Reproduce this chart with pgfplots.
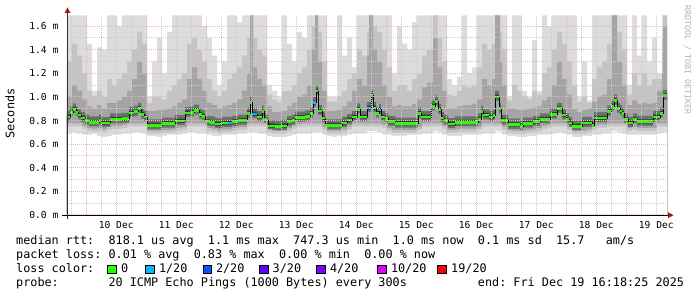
\documentclass[border=0pt]{standalone}
\usepackage{fontspec}
\setmainfont{DejaVu Sans Mono}
\setmonofont{DejaVu Sans Mono}
\usepackage{pgfplots}
\usepackage{pgfplotstable}
\pgfplotsset{compat=1.18}

\definecolor{cA}{HTML}{DCDCDC}
\definecolor{cB}{HTML}{C4C4C4}
\definecolor{cC}{HTML}{A4A4A4}
\definecolor{cD}{HTML}{6E6E6E}
\definecolor{cE}{HTML}{363636}
\definecolor{lossgreen}{HTML}{26FF00}
\definecolor{lossA}{HTML}{00B8FF}
\definecolor{lossB}{HTML}{0059FF}
\definecolor{lossC}{HTML}{5E00FF}
\definecolor{lossD}{HTML}{7E00FF}
\definecolor{lossE}{HTML}{DD00FF}
\definecolor{lossF}{HTML}{FF0000}
\definecolor{gridred}{HTML}{EBB4B4}
\definecolor{gridgray}{HTML}{CCCCCC}
\definecolor{arrowred}{HTML}{A01818}

\newcommand\legendfont{\fontsize{11.8}{14}\selectfont}
\newcommand\tickfont{\fontsize{9.6}{11}\selectfont}

% smoke envelope: a=top light, b, c (upper layers); d, e, f (lower layers)
\pgfplotstableread{
x a b c d e f
16.3 1.69 1.30 1.00 .775 .75 .69
18.3 1.69 1.45 1.10 .775 .75 .70
20.3 1.69 1.35 1.05 .775 .75 .69
22.3 1.69 1.20 0.98 .755 .73 .68
24.3 1.45 1.05 0.92 .735 .71 .68
26.3 1.05 1.00 0.90 .73 .705 .69
28.3 1.42 1.05 0.93 .735 .71 .67
30.3 1.40 1.00 0.90 .725 .70 .66
32.3 1.69 1.15 0.95 .745 .72 .67
34.3 1.69 1.10 0.95 .755 .73 .68
36.3 1.60 1.15 0.97 .755 .73 .68
38.3 1.69 1.20 1.00 .76 .735 .69
40.3 1.69 1.30 1.05 .775 .75 .69
42.3 1.69 1.40 1.15 .775 .75 .70
44.3 1.69 1.55 1.30 .775 .75 .70
46.3 1.69 1.45 1.20 .775 .75 .69
48.3 1.00 0.95 0.88 .715 .69 .67
50.3 1.30 1.00 0.88 .715 .69 .67
52.3 1.50 1.00 0.89 .715 .69 .66
54.3 1.20 0.98 0.89 .72 .695 .67
56.3 1.55 1.05 0.90 .72 .695 .68
58.3 1.69 1.10 0.92 .725 .70 .68
60.3 1.69 1.15 0.95 .74 .715 .68
62.3 1.69 1.20 0.98 .745 .72 .69
64.3 1.69 1.45 1.15 .775 .75 .70
66.3 1.69 1.50 1.25 .775 .75 .70
68.3 1.69 1.40 1.15 .775 .75 .69
70.3 1.60 1.30 1.05 .775 .75 .69
72.3 1.50 1.15 0.95 .735 .71 .68
74.3 1.35 1.05 0.93 .73 .705 .67
76.3 1.10 1.00 0.90 .715 .69 .67
78.3 1.30 1.05 0.92 .725 .70 .68
80.3 1.69 1.15 0.93 .725 .70 .68
82.3 1.69 1.20 0.95 .735 .71 .68
84.3 1.63 1.25 0.98 .745 .72 .69
86.3 1.69 1.35 1.05 .745 .72 .69
88.3 1.69 1.50 1.20 .775 .75 .70
89.5 1.69 1.69 1.69 .775 .75 .70
90.7 1.69 1.50 1.25 .775 .75 .70
92.3 1.69 1.40 1.15 .775 .75 .69
94.3 1.69 1.35 1.10 .775 .75 .69
96.3 1.10 1.02 0.92 .725 .70 .67
98.3 1.05 0.98 0.87 .715 .69 .66
100.3 1.00 0.96 0.87 .715 .69 .66
102.3 1.69 1.05 0.88 .715 .69 .66
104.3 1.45 1.05 0.92 .735 .71 .67
106.3 1.30 1.10 0.95 .755 .73 .68
108.3 1.55 1.20 1.00 .77 .745 .69
110.3 1.50 1.25 1.02 .775 .75 .69
112.3 1.69 1.40 1.10 .775 .75 .69
114.3 1.69 1.60 1.40 .775 .75 .70
115.5 1.69 1.69 1.69 .775 .75 .70
116.7 1.69 1.55 1.30 .775 .75 .70
118.3 1.69 1.30 1.05 .745 .72 .68
120.3 1.00 0.96 0.88 .715 .69 .67
122.3 1.00 0.96 0.88 .715 .69 .66
124.3 1.69 1.00 0.89 .715 .69 .67
126.3 1.35 1.05 0.92 .725 .70 .67
128.3 1.50 1.15 0.96 .75 .725 .68
130.3 1.25 1.20 1.05 .775 .75 .69
132.3 1.69 1.40 1.15 .775 .75 .69
134.3 1.69 1.35 1.10 .775 .75 .69
136.3 1.69 1.55 1.35 .775 .75 .71
137.1 1.69 1.69 1.69 .775 .75 .71
138.7 1.69 1.60 1.40 .775 .75 .71
140.3 1.69 1.55 1.30 .775 .75 .70
142.3 1.69 1.40 1.10 .765 .74 .68
144.3 1.69 1.25 1.00 .735 .71 .68
146.3 1.20 1.05 0.92 .72 .695 .67
148.3 1.60 1.10 0.93 .72 .695 .67
150.3 1.45 1.10 0.92 .72 .695 .67
152.3 1.40 1.05 0.92 .72 .695 .68
154.3 1.63 1.15 0.94 .72 .695 .68
156.3 1.69 1.20 0.98 .745 .72 .68
158.3 1.69 1.35 1.08 .775 .75 .69
160.3 1.69 1.40 1.12 .775 .75 .69
162.7 1.69 1.69 1.50 .775 .75 .71
164.5 1.69 1.50 1.25 .775 .75 .70
166.3 1.69 1.30 1.05 .755 .73 .68
168.3 1.15 1.02 0.90 .72 .695 .67
170.3 1.10 1.00 0.90 .72 .695 .67
172.3 1.17 1.05 0.92 .73 .705 .67
174.3 1.69 1.10 0.93 .73 .705 .68
176.3 1.20 1.08 0.93 .73 .705 .68
178.3 1.25 1.10 0.94 .73 .705 .68
180.3 1.69 1.25 0.98 .745 .72 .68
182.3 1.69 1.45 1.15 .775 .75 .69
184.3 1.69 1.40 1.10 .775 .75 .69
186.3 1.69 1.45 1.15 .775 .75 .69
187.5 1.69 1.69 1.69 .775 .75 .71
189.5 1.69 1.55 1.30 .775 .75 .70
190.3 1.69 1.40 1.10 .745 .72 .68
192.3 1.00 0.97 0.90 .72 .695 .67
194.3 1.69 1.10 0.90 .715 .69 .67
196.3 1.69 1.05 0.89 .715 .69 .66
198.3 1.05 1.00 0.89 .715 .69 .66
200.3 1.00 0.98 0.90 .72 .695 .67
202.3 1.48 1.05 0.91 .725 .70 .67
204.3 1.05 1.02 0.92 .735 .71 .68
206.3 1.69 1.20 0.97 .755 .73 .68
208.3 1.60 1.25 1.00 .765 .74 .68
210.3 1.69 1.40 1.10 .775 .75 .69
212.3 1.69 1.55 1.30 .775 .75 .70
214.3 1.69 1.45 1.15 .775 .75 .69
216.3 1.69 1.30 1.02 .745 .72 .68
218.3 1.69 1.10 0.90 .715 .69 .66
220.3 1.00 0.96 0.87 .715 .69 .66
222.3 1.30 1.00 0.89 .715 .69 .67
224.3 0.97 0.95 0.90 .725 .70 .67
226.3 1.69 1.15 0.96 .745 .72 .68
228.3 1.69 1.25 1.00 .765 .74 .68
230.3 1.69 1.30 1.02 .765 .74 .69
232.3 1.69 1.45 1.15 .775 .75 .69
234.3 1.69 1.69 1.69 .775 .75 .71
236.3 1.69 1.55 1.30 .775 .75 .70
238.3 1.69 1.40 1.10 .775 .75 .69
240.3 1.10 1.02 0.93 .735 .71 .68
242.3 1.69 1.20 0.97 .745 .72 .68
244.3 1.35 1.10 0.94 .735 .71 .68
246.3 1.69 1.20 0.95 .735 .71 .68
248.3 1.30 1.10 0.94 .735 .71 .68
250.3 1.50 1.15 0.95 .735 .71 .68
252.3 1.20 1.15 1.05 .775 .75 .69
254.3 1.69 1.50 1.20 .775 .75 .70
254.7 1.69 1.69 1.60 .775 .75 .70
256.3 1.69 1.69 1.60 .775 .75 .70
}\smoke

% median rtt (in ms) and the dark core around it
\pgfplotstableread{
x m hd he le ld
16.3 .83 .88 .85 .815 .795
17.5 .87 .92 .89 .855 .835
18.7 .895 .945 .915 .88 .86
19.9 .87 .92 .89 .855 .835
20.7 .845 .895 .865 .83 .81
21.9 .82 .87 .84 .805 .785
23.5 .80 .85 .82 .785 .765
25.1 .785 .835 .805 .77 .75
29.1 .80 .85 .82 .785 .765
29.9 .78 .83 .80 .765 .745
33.5 .81 .86 .83 .795 .775
38.3 .815 .865 .835 .80 .78
41.1 .865 .915 .885 .85 .83
43.1 .875 .925 .895 .86 .84
44.7 .90 .95 .92 .885 .865
45.9 .85 .90 .87 .835 .815
47.1 .83 .88 .85 .815 .795
48.3 .76 .81 .78 .745 .725
54.3 .775 .825 .795 .76 .74
59.5 .795 .845 .815 .78 .76
63.5 .865 .915 .885 .85 .83
65.5 .87 .92 .89 .855 .835
67.1 .885 .935 .905 .87 .85
69.1 .85 .90 .87 .835 .815
70.3 .835 .885 .855 .82 .80
71.5 .79 .84 .81 .775 .755
73.5 .785 .835 .805 .77 .75
75.5 .77 .82 .79 .755 .735
78.3 .78 .83 .80 .765 .745
82.3 .79 .84 .81 .775 .755
84.7 .80 .85 .82 .785 .765
88.3 .86 .91 .88 .845 .825
89.5 .95 1.00 .97 .935 .915
90.3 .855 .905 .875 .84 .82
92.3 .83 .88 .85 .815 .795
94.3 .875 .925 .895 .86 .84
95.1 .81 .86 .83 .795 .775
95.9 .80 .85 .82 .785 .765
96.7 .755 .805 .775 .74 .72
99.5 .75 .80 .77 .735 .715
102.3 .755 .805 .775 .74 .72
104.3 .79 .84 .81 .775 .755
106.3 .80 .85 .82 .785 .765
107.5 .825 .875 .845 .81 .79
111.5 .835 .885 .855 .82 .80
113.5 .86 .91 .88 .845 .825
114.7 .95 1.00 .97 .935 .915
115.9 1.05 1.10 1.07 1.035 1.015
116.7 .88 .93 .90 .865 .845
118.3 .82 .87 .84 .805 .785
119.5 .76 .81 .78 .745 .725
126.3 .78 .83 .80 .765 .745
128.3 .805 .855 .825 .79 .77
130.3 .83 .88 .85 .815 .795
132.3 .895 .945 .915 .88 .86
133.5 .83 .88 .85 .815 .795
136.3 .905 .955 .925 .89 .87
137.9 1.01 1.06 1.03 .995 .975
138.7 .905 .955 .925 .89 .87
139.9 .86 .91 .88 .845 .825
141.1 .89 .94 .91 .875 .855
141.9 .83 .88 .85 .815 .795
143.5 .815 .865 .835 .80 .78
144.7 .79 .84 .81 .775 .755
147.5 .775 .825 .795 .76 .74
156.7 .86 .91 .88 .845 .825
157.9 .83 .88 .85 .815 .795
161.9 .92 .97 .94 .905 .885
163.5 .96 1.01 .98 .945 .925
164.7 .89 .94 .91 .875 .855
165.9 .82 .87 .84 .805 .785
167.1 .80 .85 .82 .785 .765
168.7 .77 .82 .79 .755 .735
171.5 .785 .835 .805 .77 .75
180.7 .81 .86 .83 .795 .775
181.9 .875 .925 .895 .86 .84
182.7 .845 .895 .865 .83 .81
185.1 .83 .88 .85 .815 .795
186.7 .84 .89 .86 .825 .805
187.5 1.00 1.05 1.02 .985 .965
189.1 .90 .95 .92 .885 .865
189.9 .80 .85 .82 .785 .765
192.7 .765 .815 .785 .75 .73
197.5 .75 .80 .77 .735 .715
198.7 .775 .825 .795 .76 .74
202.7 .79 .84 .81 .775 .755
205.5 .81 .86 .83 .795 .775
209.5 .85 .90 .87 .835 .815
212.3 .90 .95 .92 .885 .865
214.3 .845 .895 .865 .83 .81
215.9 .81 .86 .83 .795 .775
217.1 .78 .83 .80 .765 .745
218.3 .75 .80 .77 .735 .715
222.3 .78 .83 .80 .765 .745
226.3 .76 .81 .78 .745 .725
227.1 .82 .87 .84 .805 .785
232.3 .875 .925 .895 .86 .84
233.9 .92 .97 .94 .905 .885
235.1 .97 1.02 .99 .955 .935
236.3 .90 .95 .92 .885 .865
237.5 .88 .93 .90 .865 .845
238.3 .86 .91 .88 .845 .825
239.1 .81 .86 .83 .795 .775
240.7 .78 .83 .80 .765 .745
242.7 .81 .86 .83 .795 .775
244.3 .79 .84 .81 .775 .755
250.7 .83 .88 .85 .815 .795
253.5 .86 .91 .88 .845 .825
254.7 1.01 1.06 1.03 .995 .975
256.3 1.01 1.06 1.03 .995 .975
}\med

\begin{document}
\begin{tikzpicture}
\useasboundingbox (0,0) rectangle (697pt,297pt);
\begin{axis}[
  at={(67pt,82pt)}, anchor=south west,
  scale only axis, width=600pt, height=199.6pt,
  xmin=16.3, xmax=256.3, ymin=0, ymax=1.69,
  axis line style={draw=none},
  tick style={draw=none},
  xtick={24,48,72,96,120,144,168,192,216,240},
  xticklabels={},
  minor xtick={18,30,36,42,54,60,66,78,84,90,102,108,114,126,132,138,150,156,162,174,180,186,198,204,210,222,228,234,246,252},
  extra x ticks={36,60,84,108,132,156,180,204,228,252},
  extra x tick labels={10 Dec,11 Dec,12 Dec,13 Dec,14 Dec,15 Dec,16 Dec,17 Dec,18 Dec,19 Dec},
  extra x tick style={grid=none},
  ytick={0,0.2,0.4,0.6,0.8,1.0,1.2,1.4,1.6},
  yticklabels={0.0 m,0.2 m,0.4 m,0.6 m,0.8 m,1.0 m,1.2 m,1.4 m,1.6 m},
  minor ytick={0.1,0.3,0.5,0.7,0.9,1.1,1.3,1.5},
  grid=both,
  major grid style={draw=gridred, line width=1pt, dash pattern=on 1pt off 1pt},
  minor grid style={draw=gridgray, line width=1pt, dash pattern=on 1pt off 1pt},
  axis on top,
  ticklabel style={font=\tickfont},
  xticklabel style={anchor=base, inner sep=0pt, yshift=-13.3pt},
  yticklabel style={anchor=east, inner sep=0pt, xshift=-8.5pt},
]
\addplot[const plot, draw=none, fill=cA] table[x=x,y=a]{\smoke} \closedcycle;
\addplot[const plot, draw=none, fill=cB] table[x=x,y=b]{\smoke} \closedcycle;
\addplot[const plot, draw=none, fill=cC] table[x=x,y=c]{\smoke} \closedcycle;
\addplot[const plot, draw=none, fill=cD] table[x=x,y=hd]{\med} \closedcycle;
\addplot[const plot, draw=none, fill=cE] table[x=x,y=he]{\med} \closedcycle;
\addplot[const plot, draw=none, fill=cD] table[x=x,y=le]{\med} \closedcycle;
\addplot[const plot, draw=none, fill=cC] table[x=x,y=ld]{\med} \closedcycle;
\addplot[const plot, draw=none, fill=cB] table[x=x,y=d]{\smoke} \closedcycle;
\addplot[const plot, draw=none, fill=cA] table[x=x,y=e]{\smoke} \closedcycle;
\addplot[const plot, draw=none, fill=white] table[x=x,y=f]{\smoke} \closedcycle;
\addplot[const plot, black, line width=0.8pt] table[x=x,y=m]{\med};
\addplot[jump mark left, lossgreen, line width=2.6pt] table[x=x,y=m]{\med};
\addplot[lossA, line width=2.6pt] coordinates {(80.7,0.78) (82.3,0.78)};
\addplot[lossA, line width=2.6pt] coordinates {(90.3,0.855) (92.3,0.855)};
\addplot[lossA, line width=2.6pt] coordinates {(114.7,0.95) (115.9,0.95)};
\addplot[lossA, line width=2.6pt] coordinates {(136.3,0.905) (137.9,0.905)};
\addplot[lossA, line width=2.6pt] coordinates {(141.1,0.89) (141.9,0.89)};
\end{axis}
% axes with arrows
\draw[black, line width=1pt] (62pt,81.8pt) -- (668pt,81.8pt);
\draw[black!80, line width=1pt] (67.5pt,78pt) -- (67.5pt,284pt);
\fill[arrowred] (64.5pt,284pt) -- (70.5pt,284pt) -- (67.5pt,289.5pt) -- cycle;
\fill[arrowred] (668pt,84.8pt) -- (668pt,78.8pt) -- (673.5pt,81.8pt) -- cycle;
% y label and watermark
\node[rotate=90, font=\legendfont, inner sep=0pt] at (10pt,183.5pt) {Seconds};
\node[rotate=-90, font=\fontsize{8.3}{9}\selectfont, text=black!30, inner sep=0pt] at (687.5pt,237pt) {RRDTOOL / TOBI OETIKER};
% legend
\node[anchor=base west, inner sep=0pt, font=\legendfont] at (16pt,52.5pt) {median~rtt:~~818.1~us~avg~~1.1~ms~max~~747.3~us~min~~1.0~ms~now~~0.1~ms~sd~~15.7~~~am/s};
\node[anchor=base west, inner sep=0pt, font=\legendfont] at (16pt,38.3pt) {packet~loss:~0.01~\%~avg~~0.83~\%~max~~0.00~\%~min~~0.00~\%~now};
\node[anchor=base west, inner sep=0pt, font=\legendfont] at (16pt,24.1pt) {loss~color:};
\filldraw[fill=lossgreen, draw=black, line width=0.8pt] (107.7pt,24pt) rectangle (116pt,32pt);
\filldraw[fill=lossA, draw=black, line width=0.8pt] (145.7pt,24pt) rectangle (154pt,32pt);
\filldraw[fill=lossB, draw=black, line width=0.8pt] (203pt,24pt) rectangle (211.3pt,32pt);
\filldraw[fill=lossC, draw=black, line width=0.8pt] (259.7pt,24pt) rectangle (268pt,32pt);
\filldraw[fill=lossD, draw=black, line width=0.8pt] (316.7pt,24pt) rectangle (325pt,32pt);
\filldraw[fill=lossE, draw=black, line width=0.8pt] (377.7pt,24pt) rectangle (386pt,32pt);
\filldraw[fill=lossF, draw=black, line width=0.8pt] (437.7pt,24pt) rectangle (446pt,32pt);
\node[anchor=base west, inner sep=0pt, font=\legendfont] at (121pt,24.1pt) {0};
\node[anchor=base west, inner sep=0pt, font=\legendfont] at (158.8pt,24.1pt) {1/20};
\node[anchor=base west, inner sep=0pt, font=\legendfont] at (215.8pt,24.1pt) {2/20};
\node[anchor=base west, inner sep=0pt, font=\legendfont] at (272.5pt,24.1pt) {3/20};
\node[anchor=base west, inner sep=0pt, font=\legendfont] at (329.8pt,24.1pt) {4/20};
\node[anchor=base west, inner sep=0pt, font=\legendfont] at (390.8pt,24.1pt) {10/20};
\node[anchor=base west, inner sep=0pt, font=\legendfont] at (451pt,24.1pt) {19/20};
\node[anchor=base west, inner sep=0pt, font=\legendfont] at (16pt,10pt) {probe:~~~~~~~20~ICMP~Echo~Pings~(1000~Bytes)~every~300s~~~~~~~~~~end:~Fri~Dec~19~16:18:25~2025};
\end{tikzpicture}
\end{document}
